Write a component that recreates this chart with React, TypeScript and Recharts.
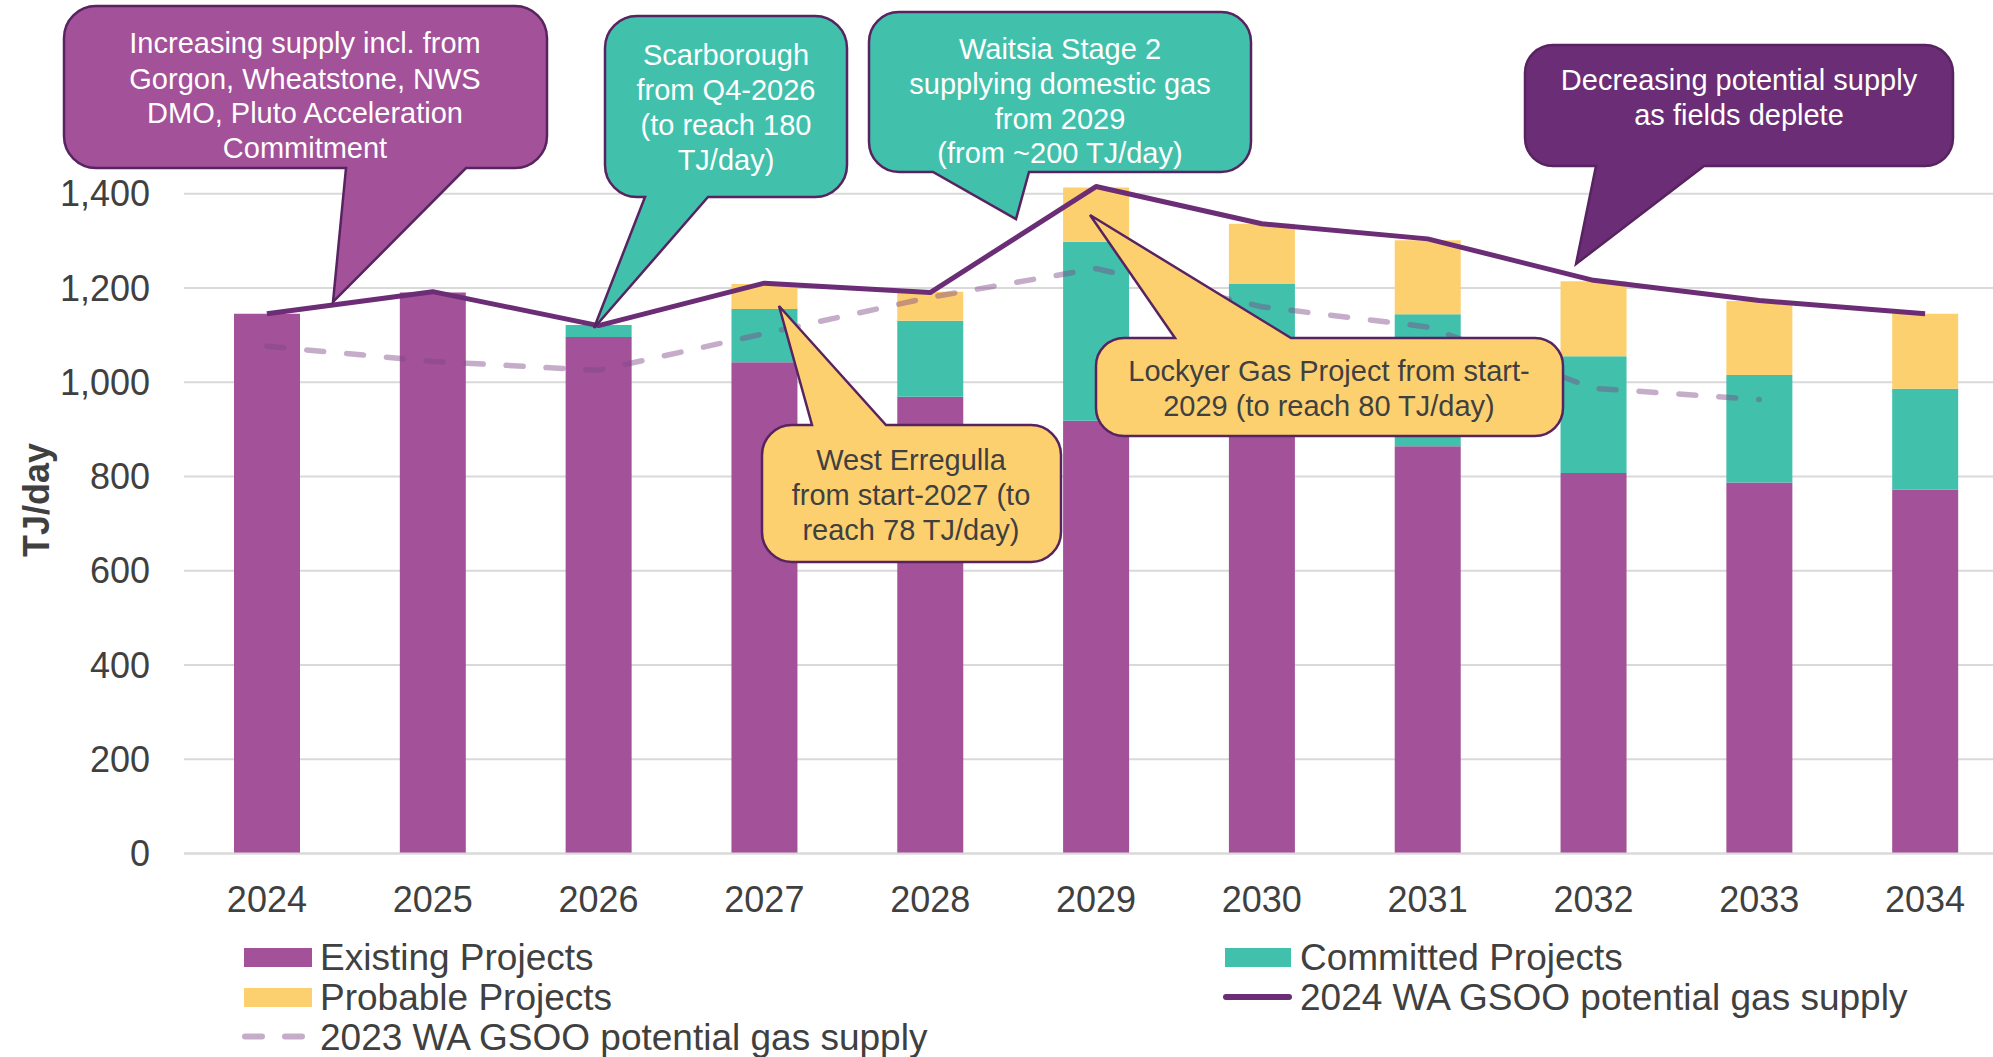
import { ComposedChart, Bar, Line, XAxis, YAxis, CartesianGrid } from "recharts";

const years = ["2024", "2025", "2026", "2027", "2028", "2029", "2030", "2031", "2032", "2033", "2034"];
const existing = [1145, 1190, 1096, 1042, 969, 918, 890, 864, 807, 787, 772];
const committed = [0, 0, 25, 113, 161, 380, 318, 280, 248, 228, 214];
const probable = [0, 0, 0, 53, 62, 115, 128, 157, 159, 157, 159];
const gsoo2024 = [1145, 1192, 1120, 1210, 1190, 1415, 1336, 1304, 1216, 1173, 1145];
const gsoo2023 = [1076, 1044, 1025, 1103, 1180, 1241, 1160, 1117, 987, 963, null];
const yTicks = [0, 200, 400, 600, 800, 1000, 1200, 1400];

const data = years.map((year, i) => ({
  year,
  existing: existing[i],
  committed: committed[i],
  probable: probable[i],
  gsoo2024: gsoo2024[i],
  gsoo2023: gsoo2023[i],
}));

const FONT = "'Liberation Sans', Arial, sans-serif";
const PURPLE = "#A35199";
const TEAL = "#41C1AB";
const YELLOW = "#FDD06F";
const DARK = "#6B2D75";
const TEXT = "#404040";
const BORDER = "#582361";

type Callout = {
  x: number; y: number; w: number; h: number; r: number;
  side: "top" | "bottom"; b1: number; b2: number; tx: number; ty: number;
  fill: string; color: string; cx: number; lines: string[]; baselines: number[];
};

const callouts: Callout[] = [
  {
    x: 64, y: 6, w: 483, h: 162, r: 32, side: "bottom", b1: 346, b2: 466, tx: 333, ty: 302,
    fill: PURPLE, color: "#fff", cx: 305,
    lines: ["Increasing supply incl. from", "Gorgon, Wheatstone, NWS", "DMO, Pluto Acceleration", "Commitment"],
    baselines: [53, 89, 123, 158],
  },
  {
    x: 605, y: 16, w: 242, h: 181, r: 32, side: "bottom", b1: 645, b2: 708, tx: 594, ty: 328,
    fill: TEAL, color: "#fff", cx: 726,
    lines: ["Scarborough", "from Q4-2026", "(to reach 180", "TJ/day)"],
    baselines: [65, 100, 135, 170],
  },
  {
    x: 869, y: 12, w: 382, h: 160, r: 30, side: "bottom", b1: 933, b2: 1029, tx: 1016, ty: 219,
    fill: TEAL, color: "#fff", cx: 1060,
    lines: ["Waitsia Stage 2", "supplying domestic gas", "from 2029", "(from ~200 TJ/day)"],
    baselines: [59, 94, 129, 163],
  },
  {
    x: 1525, y: 45, w: 428, h: 121, r: 28, side: "bottom", b1: 1596, b2: 1704, tx: 1576, ty: 264,
    fill: DARK, color: "#fff", cx: 1739,
    lines: ["Decreasing potential supply", "as fields deplete"],
    baselines: [90, 125],
  },
  {
    x: 762, y: 425, w: 299, h: 137, r: 30, side: "top", b1: 812, b2: 886, tx: 779, ty: 306,
    fill: YELLOW, color: TEXT, cx: 911,
    lines: ["West Erregulla", "from start-2027 (to", "reach 78 TJ/day)"],
    baselines: [470, 505, 540],
  },
  {
    x: 1096, y: 338, w: 467, h: 98, r: 28, side: "top", b1: 1175, b2: 1291, tx: 1090, ty: 215,
    fill: YELLOW, color: TEXT, cx: 1329,
    lines: ["Lockyer Gas Project from start-", "2029 (to reach 80 TJ/day)"],
    baselines: [381, 416],
  },
];

function bubblePath(c: Callout) {
  const { x, y, w, h, r, side, b1, b2, tx, ty } = c;
  const top = side === "top" ? `H${b1} L${tx},${ty} L${b2},${y} ` : "";
  const bottom = side === "bottom" ? `H${b2} L${tx},${ty} L${b1},${y + h} ` : "";
  return (
    `M${x + r},${y} ${top}H${x + w - r} A${r},${r} 0 0 1 ${x + w},${y + r} ` +
    `V${y + h - r} A${r},${r} 0 0 1 ${x + w - r},${y + h} ${bottom}H${x + r} ` +
    `A${r},${r} 0 0 1 ${x},${y + h - r} V${y + r} A${r},${r} 0 0 1 ${x + r},${y} Z`
  );
}

export default function App() {
  return (
    <div style={{ position: "relative", width: 1993, height: 1057, overflow: "hidden", background: "#fff", fontFamily: FONT }}>
      <style>{`body{margin:0;overflow:hidden}`}</style>
      <ComposedChart
        width={2030}
        height={940}
        data={data}
        margin={{ top: 184.2, right: 22, bottom: 26.6, left: 0 }}
        barSize={66}
      >
        <CartesianGrid vertical={false} horizontalValues={yTicks} stroke="#D9D9D9" strokeWidth={2} />
        <XAxis
          dataKey="year"
          height={60}
          tickLine={false}
          tickSize={0}
          tickMargin={33}
          axisLine={{ stroke: "#D9D9D9", strokeWidth: 2 }}
          tick={{ fill: TEXT, fontSize: 36, fontFamily: FONT }}
        />
        <YAxis
          width={184}
          domain={[0, 1420]}
          ticks={yTicks}
          interval={0}
          axisLine={false}
          tickLine={false}
          tickSize={0}
          tickMargin={34}
          tickFormatter={(v: number) => v.toLocaleString("en-US")}
          tick={{ fill: TEXT, fontSize: 36, fontFamily: FONT }}
        />
        <Bar dataKey="existing" stackId="s" fill={PURPLE} isAnimationActive={false} />
        <Bar dataKey="committed" stackId="s" fill={TEAL} isAnimationActive={false} />
        <Bar dataKey="probable" stackId="s" fill={YELLOW} isAnimationActive={false} />
        <Line
          dataKey="gsoo2023"
          type="linear"
          stroke="#7F4A88"
          strokeOpacity={0.45}
          strokeWidth={5.5}
          strokeDasharray="17 23"
          strokeLinecap="round"
          dot={false}
          activeDot={false}
          isAnimationActive={false}
        />
        <Line
          dataKey="gsoo2024"
          type="linear"
          stroke={DARK}
          strokeWidth={5}
          strokeLinejoin="round"
          dot={false}
          activeDot={false}
          isAnimationActive={false}
        />
      </ComposedChart>

      <svg width={1993} height={1057} style={{ position: "absolute", left: 0, top: 0, pointerEvents: "none" }}>
        {callouts.map((c, i) => (
          <g key={i}>
            <path d={bubblePath(c)} fill={c.fill} stroke={BORDER} strokeWidth={2.5} strokeLinejoin="miter" />
            {c.lines.map((l, j) => (
              <text key={j} x={c.cx} y={c.baselines[j]} textAnchor="middle" fontSize={29} fontFamily={FONT} fill={c.color}>
                {l}
              </text>
            ))}
          </g>
        ))}

        <text transform="translate(49,500) rotate(-90)" textAnchor="middle" fontSize={36} fontWeight="bold" fontFamily={FONT} fill={TEXT}>
          TJ/day
        </text>

        <g fontFamily={FONT} fontSize={37} fill={TEXT}>
          <rect x={244} y={948} width={68} height={19} fill={PURPLE} />
          <text x={320} y={970}>Existing Projects</text>
          <rect x={1225} y={948} width={66} height={19} fill={TEAL} />
          <text x={1300} y={970}>Committed Projects</text>
          <rect x={244} y={988} width={68} height={19} fill={YELLOW} />
          <text x={320} y={1010}>Probable Projects</text>
          <line x1={1226} y1={997} x2={1289} y2={997} stroke={DARK} strokeWidth={6} strokeLinecap="round" />
          <text x={1300} y={1010}>2024 WA GSOO potential gas supply</text>
          <line x1={245} y1={1036.5} x2={305} y2={1036.5} stroke="#7F4A88" strokeOpacity={0.45} strokeWidth={6} strokeDasharray="17 23" strokeLinecap="round" />
          <text x={320} y={1050}>2023 WA GSOO potential gas supply</text>
        </g>
      </svg>
    </div>
  );
}
